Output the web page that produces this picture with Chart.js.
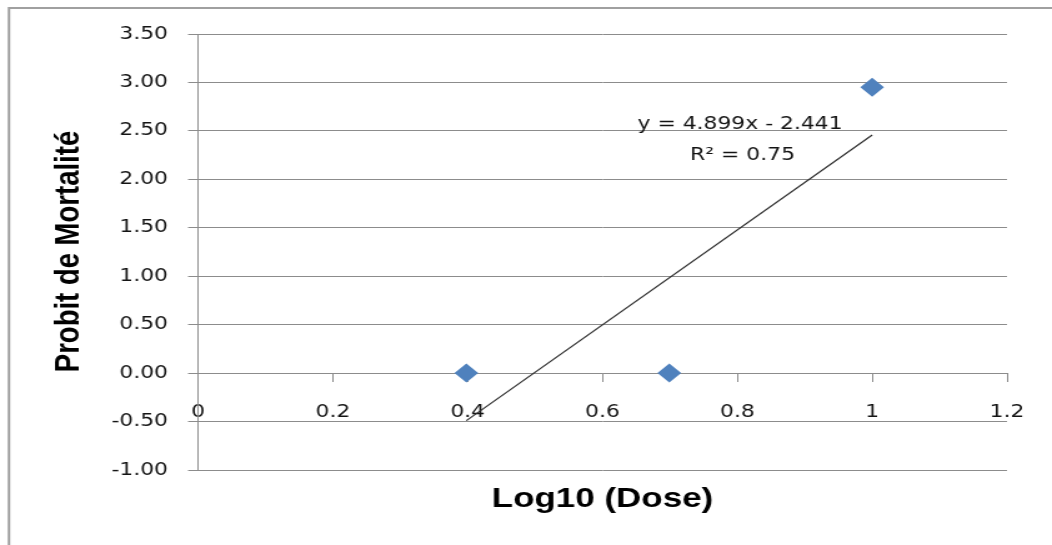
<!DOCTYPE html>
<html>
<head>
<meta charset="utf-8">
<script src="https://cdn.jsdelivr.net/npm/chart.js"></script>
<style>
  html, body { margin: 0; padding: 0; background: #fff; overflow: hidden; }
  /* the reference is stretched sideways, so draw narrower and stretch */
  #wrap { width: 842px; height: 545px; transform: scaleX(1.2494); transform-origin: 0 0; }
</style>
</head>
<body>
<div id="wrap"><canvas id="myChart"></canvas></div>
<script>
// Data
const doseLog = [0.398, 0.699, 1];
const probit = [0, 0, 2.95];
const trendX = [0.398, 1];
const trendY = [-0.49, 2.458];
const xTickLabels = ['0', '0.2', '0.4', '0.6', '0.8', '1', '1.2'];
const yTickLabels = ['-1.00', '-0.50', '0.00', '0.50', '1.00', '1.50', '2.00', '2.50', '3.00', '3.50'];
const equationLines = ['y = 4.899x - 2.441', 'R\u00B2 = 0.75'];
const xTitle = 'Log10 (Dose)';
const yTitle = 'Probit de Mortalit\u00E9';

const gridColor = '#8c8c8c';
const textColor = '#141414';
const tickFont = { family: 'DejaVu Sans', size: 17.5 };

// titles, equation and outer frame
const textPlugin = {
  id: 'textPlugin',
  beforeDraw(chart) {
    const ctx = chart.ctx;
    ctx.save();
    ctx.strokeStyle = '#a0a0a0';
    ctx.lineWidth = 2;
    ctx.strokeRect(7.2, 8, 1000, 1000);
    ctx.restore();
  },
  afterDraw(chart) {
    const ctx = chart.ctx;
    ctx.save();
    ctx.fillStyle = textColor;
    ctx.textAlign = 'center';
    ctx.textBaseline = 'alphabetic';

    ctx.font = '17.5px "DejaVu Sans"';
    ctx.fillText(equationLines[0], 592.3, 129);
    ctx.fillText(equationLines[1], 594.3, 160);

    ctx.fillStyle = '#000';
    ctx.font = 'bold 28px "Liberation Sans"';
    ctx.fillText(xTitle, 482.2, 507);

    ctx.translate(63.2, 251.5);
    ctx.rotate(-Math.PI / 2);
    ctx.font = 'bold 27.5px "Liberation Sans"';
    ctx.fillText(yTitle, 0, 0);
    ctx.restore();
  }
};

const data = {
  datasets: [{
    label: 'Probit',
    data: doseLog.map((x, i) => ({ x: x, y: probit[i] })),
    pointStyle: 'rectRot',
    pointRadius: 9.5,
    pointBackgroundColor: '#4F81BD',
    pointBorderColor: '#4F81BD',
    pointBorderWidth: 0,
    showLine: false
  }, {
    label: 'Trend',
    data: trendX.map((x, i) => ({ x: x, y: trendY[i] })),
    showLine: true,
    borderColor: '#2e2e2e',
    borderWidth: 1.2,
    pointRadius: 0,
    fill: false
  }]
};

const config = {
  type: 'scatter',
  data,
  options: {
    responsive: true,
    maintainAspectRatio: false,
    animation: false,
    layout: { padding: { left: 0, right: 36, top: 34, bottom: 75 } },
    plugins: {
      legend: { display: false },
      tooltip: { enabled: false }
    },
    scales: {
      x: {
        type: 'linear',
        position: { y: 0 },
        min: 0,
        max: 1.2,
        ticks: {
          stepSize: 0.2,
          autoSkip: false,
          maxRotation: 0,
          padding: 21,
          color: textColor,
          font: tickFont,
          callback: (v, i) => xTickLabels[i]
        },
        grid: { drawOnChartArea: false, drawTicks: true, tickLength: 8, color: gridColor },
        border: { color: gridColor }
      },
      y: {
        type: 'linear',
        position: 'left',
        min: -1,
        max: 3.5,
        afterFit: (scale) => { scale.width = 158.5; },
        ticks: {
          stepSize: 0.5,
          padding: 16,
          color: textColor,
          font: tickFont,
          callback: (v, i) => yTickLabels[i]
        },
        grid: { color: gridColor, tickLength: 8 },
        border: { color: gridColor }
      }
    }
  },
  plugins: [textPlugin]
};

var myChart = new Chart(
  document.getElementById('myChart'),
  config
);
</script>
</body>
</html>
